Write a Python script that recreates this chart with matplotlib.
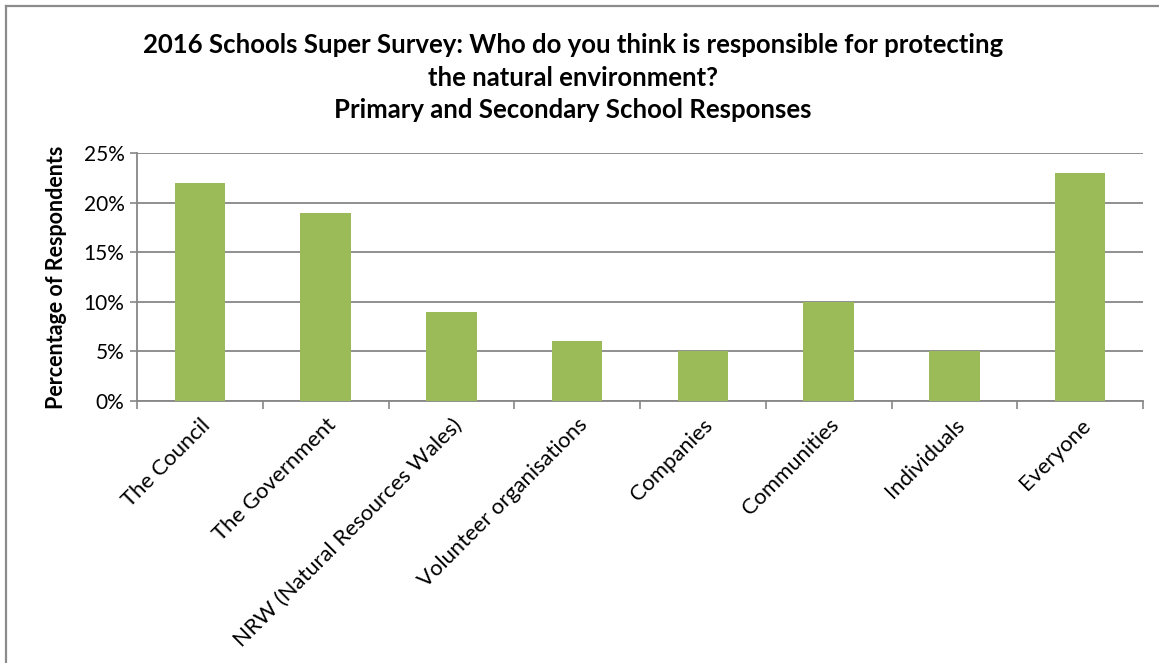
import matplotlib
matplotlib.use("Agg")
import matplotlib.pyplot as plt
from matplotlib.lines import Line2D
import numpy as np

categories = ["The Council", "The Government", "NRW (Natural Resources Wales)",
              "Volunteer organisations", "Companies", "Communities",
              "Individuals", "Everyone"]
values = [22, 19, 9, 6, 5, 10, 5, 23]
yticks = [0, 5, 10, 15, 20, 25]

plt.rcParams["font.family"] = ["Lato", "DejaVu Sans"]
GREEN = "#9BBB59"
GRAY = "#878787"

W, H = 1159, 663
fig = plt.figure(figsize=(W / 100, H / 100), dpi=100)
ax = fig.add_axes([137 / W, 1 - 401 / H, (1143 - 137) / W, (401 - 153) / H])

x = np.arange(len(categories))
ax.bar(x, values, width=0.4, color=GREEN, zorder=3)
ax.set_xlim(-0.5, len(categories) - 0.5)
ax.set_ylim(0, 25)
ax.set_yticks(yticks)
ax.set_yticklabels([f"{v}%" for v in yticks], fontsize=15)
ax.yaxis.grid(True, color=GRAY, lw=1.3, zorder=0)
ax.tick_params(axis="y", length=5, width=1.2, color=GRAY, pad=4)

# category boundary ticks, labels at centres
ax.set_xticks(np.arange(-0.5, len(categories), 1.0))
ax.set_xticklabels([])
ax.tick_params(axis="x", which="major", length=6, width=1.2, color=GRAY)
ax.set_xticks(x, minor=True)
ax.set_xticklabels(categories, minor=True, rotation=45, ha="right",
                   rotation_mode="anchor", fontsize=15.8)
ax.tick_params(axis="x", which="minor", length=0, pad=10)

for s in ["top", "right"]:
    ax.spines[s].set_visible(False)
for s in ["left", "bottom"]:
    ax.spines[s].set_color(GRAY)
    ax.spines[s].set_linewidth(1.3)

ax.set_ylabel("Percentage of Respondents", fontsize=15.5, fontweight="bold", labelpad=12)

fig.text(573 / W, 1 - 45 / H,
         "2016 Schools Super Survey: Who do you think is responsible for protecting",
         ha="center", va="center", fontsize=18.5, fontweight="bold")
fig.text(573 / W, 1 - 78 / H, "the natural environment?",
         ha="center", va="center", fontsize=18.5, fontweight="bold")
fig.text(573 / W, 1 - 110 / H, "Primary and Secondary School Responses",
         ha="center", va="center", fontsize=18.5, fontweight="bold")

# outer chart frame (cropped at right and bottom)
fig.add_artist(Line2D([6 / W, 1], [1 - 6 / H, 1 - 6 / H], color="#8c8c8c", lw=1.6,
                      transform=fig.transFigure))
fig.add_artist(Line2D([6 / W, 6 / W], [0, 1 - 6 / H], color="#8c8c8c", lw=1.6,
                      transform=fig.transFigure))

fig.savefig("out.png", dpi=100)
